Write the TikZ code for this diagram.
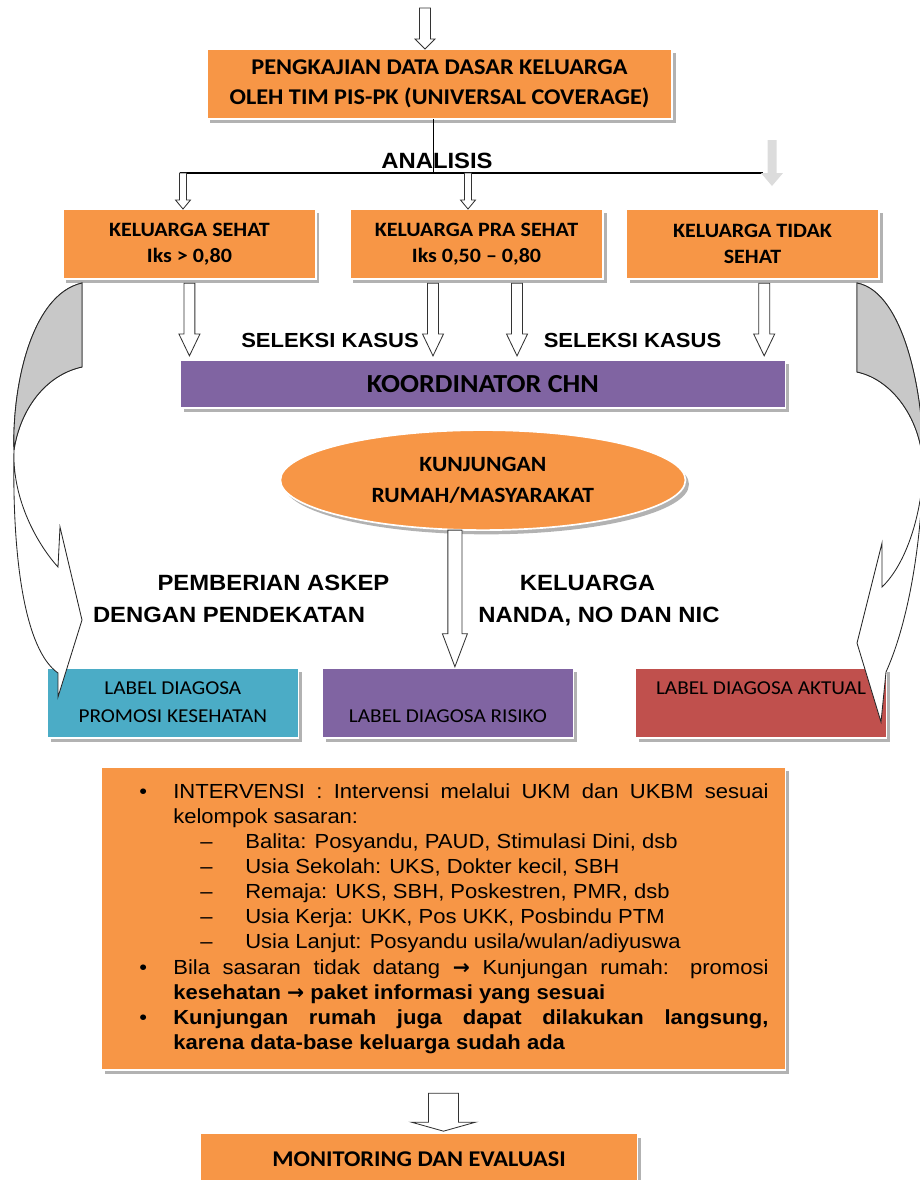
\documentclass[tikz,border=0pt]{standalone}
\usepackage{fontspec}
\setmainfont{Carlito}[FakeStretch=1.08]
\newfontfamily\arialf{Liberation Sans}[FakeStretch=1.08]
\newfontfamily\symf{DejaVu Sans}
\usetikzlibrary{positioning,shapes.geometric,shadows,calc}
\definecolor{or1}{RGB}{247,150,70}
\definecolor{pu1}{RGB}{128,100,162}
\definecolor{te1}{RGB}{75,172,198}
\definecolor{re1}{RGB}{192,80,77}
\definecolor{gr1}{RGB}{200,200,200}
\definecolor{gr2}{RGB}{220,220,220}

\begin{document}
\begin{tikzpicture}[
    x=0.025cm, y=-0.025cm,
    e/.style={
        rectangle, fill=or1, draw=white, line width=1.2pt, outer sep=0pt,
        inner sep=2pt, align=center,
        drop shadow={shadow xshift=2.5pt, shadow yshift=-3pt, opacity=.5, fill=black!60},
        font=\fontsize{14.5}{18.5}\selectfont\bfseries
    },
    row/.style={minimum width=6.325cm, minimum height=1.75cm},
    lab/.style={minimum width=6.275cm, minimum height=1.75cm,
        font=\fontsize{14}{20}\selectfont},
    lbl/.style={font=\arialf\fontsize{15.7}{19}\selectfont\bfseries,
        inner sep=0pt, anchor=base},
    hollow/.style n args={3}{draw=black!80, line width=0.6pt, fill=white,
        to path={let \p1=(\tikztostart), \p2=(\tikztotarget) in
            (\x1-#1,\y1) -- (\x1-#1,\y2+#3) -- (\x1-#2,\y2+#3) -- (\x1,\y2)
            -- (\x1+#2,\y2+#3) -- (\x1+#1,\y2+#3) -- (\x1+#1,\y1) -- cycle}},
    tarr/.style={hollow={3.9pt}{7.1pt}{7.1pt}},
    sarr/.style={hollow={2.5pt}{5.3pt}{6.4pt}},
    marr/.style={hollow={3.9pt}{7.5pt}{15.6pt}},
    karr/.style={hollow={5pt}{8.9pt}{23.5pt}},
    barr/.style={hollow={10.7pt}{22.8pt}{6.4pt}},
    garr/.style={hollow={3.2pt}{7.8pt}{9.2pt}, draw=none, fill=gr2},
    cv/.style={draw=black!85, line width=0.6pt}
]
\useasboundingbox (0,0) rectangle (920,1180);

\node [e, minimum width=11.625cm, minimum height=1.75cm,
       font=\fontsize{16}{21}\selectfont\bfseries] (pk) at (439.5,84)
      {PENGKAJIAN DATA DASAR KELUARGA\\OLEH TIM PIS-PK (UNIVERSAL COVERAGE)};

\node [e, row, below=2.25cm of pk, xshift=-6.25cm] (sehat) {KELUARGA SEHAT\\Iks > 0,80};
\node [e, row, right=0.85cm of sehat] (prasehat) {KELUARGA PRA SEHAT\\Iks 0,50 – 0,80};
\node [e, row, right=0.575cm of prasehat] (tidak) {KELUARGA TIDAK\\SEHAT};

\node [e, fill=pu1, minimum width=15.125cm, minimum height=1.2cm,
       font=\fontsize{18.5}{22}\selectfont\bfseries,
       below=2.025cm of prasehat, xshift=0.16cm] (koord) {KOORDINATOR CHN};

\node [e, ellipse, minimum width=10.125cm, minimum height=2.5cm,
       font=\fontsize{15.5}{22}\selectfont\bfseries,
       below=0.55cm of koord] (kunj) {KUNJUNGAN\\RUMAH/MASYARAKAT};

\node [e, lab, fill=pu1, below=3.45cm of kunj, xshift=-0.875cm] (risiko) {\strut\\\strut LABEL DIAGOSA RISIKO};
\node [e, lab, fill=te1, left=0.6cm of risiko] (promosi) {\strut LABEL DIAGOSA\\\strut PROMOSI KESEHATAN};
\node [e, lab, fill=re1, right=1.55cm of risiko] (aktual) {\strut LABEL DIAGOSA AKTUAL\\\strut};

\node [e, minimum width=17.1cm, minimum height=7.575cm,
       font=\arialf\fontsize{14.5}{17.8}\selectfont,
       below=0.725cm of risiko, xshift=-0.11cm] (interv)
{\hspace*{0.52cm}\parbox{15.725cm}{%
\parindent=0pt
\hangindent=0.85cm\hangafter=1
\makebox[0.85cm][l]{\textbullet}INTERVENSI : Intervensi melalui UKM dan UKBM sesuai kelompok sasaran:\par
\hspace*{1.525cm}\makebox[1.125cm][l]{–}Balita: Posyandu, PAUD, Stimulasi Dini, dsb\par
\hspace*{1.525cm}\makebox[1.125cm][l]{–}Usia Sekolah: UKS, Dokter kecil, SBH\par
\hspace*{1.525cm}\makebox[1.125cm][l]{–}Remaja: UKS, SBH, Poskestren, PMR, dsb\par
\hspace*{1.525cm}\makebox[1.125cm][l]{–}Usia Kerja: UKK, Pos UKK, Posbindu PTM\par
\hspace*{1.525cm}\makebox[1.125cm][l]{–}Usia Lanjut: Posyandu usila/wulan/adiyuswa\par
\hangindent=0.85cm\hangafter=1
\makebox[0.85cm][l]{\textbullet}Bila sasaran tidak datang {\symf\bfseries →} Kunjungan rumah: promosi\linebreak
\textbf{kesehatan {\symf →} paket informasi yang sesuai}\par
\hangindent=0.85cm\hangafter=1
\makebox[0.85cm][l]{\textbullet}\textbf{Kunjungan rumah juga dapat dilakukan langsung,\linebreak
karena data-base keluarga sudah ada}\par}};

\node [e, minimum width=10.925cm, minimum height=1.3cm,
       font=\fontsize{16}{19}\selectfont\bfseries,
       below=1.575cm of interv, xshift=-0.61cm] (monev) {MONITORING DAN EVALUASI};

% labels
\node [lbl] (ana) at (437,168) {ANALISIS};
\node [lbl, font=\arialf\fontsize{14.5}{17}\selectfont\bfseries] (sel1) at (330,347) {SELEKSI KASUS};
\node [lbl, font=\arialf\fontsize{14.5}{17}\selectfont\bfseries] (sel2) at (632.5,347) {SELEKSI KASUS};
\node [lbl] (t1) at (273.5,590) {PEMBERIAN ASKEP};
\node [lbl] (t2) at (229,622) {DENGAN PENDEKATAN};
\node [lbl] (t3) at (587.5,590) {KELUARGA};
\node [lbl] (t4) at (599,622) {NANDA, NO DAN NIC};

% analisis line
\coordinate (split) at (433,173);
\coordinate (hl) at (180,173);
\coordinate (hr) at (763,173);
\draw [line width=0.7pt] (split |- pk.south) -- (split);
\draw [line width=1.2pt] (hl) -- (hr);

% block arrows
\coordinate (in) at (425,8);
\draw [tarr] (in) to (in |- pk.north);
\coordinate (a1) at (183,173);
\coordinate (a2) at (468,173);
\draw [sarr] (a1) to (a1 |- sehat.north);
\draw [sarr] (a2) to (a2 |- prasehat.north);
\coordinate (g1) at (772,140);
\coordinate (g2) at (772,186);
\draw [garr] (g1) to (g2);

\draw [marr] ([yshift=-3pt]sehat.south) to ([yshift=3pt]sehat.south |- koord.north);
\draw [marr] ([xshift=-1.0875cm,yshift=-3pt]prasehat.south) to ([xshift=-1.0875cm,yshift=3pt]prasehat.south |- koord.north);
\draw [marr] ([xshift=1.0125cm,yshift=-3pt]prasehat.south) to ([xshift=1.0125cm,yshift=3pt]prasehat.south |- koord.north);
\draw [marr] ([xshift=0.29cm,yshift=-3pt]tidak.south) to ([xshift=0.29cm,yshift=3pt]tidak.south |- koord.north);

\draw [karr] ([xshift=-0.7cm]kunj.south) to ([xshift=-0.7cm,yshift=1pt]kunj.south |- risiko.north);
\draw [barr] ([yshift=-0.575cm]interv.south) to ([yshift=1.5pt]interv.south |- monev.north);

% curved arrows
\draw [cv, fill=white] (82,283) .. controls (30,295) and (12,390) .. (14,450)
    .. controls (12,560) and (25,650) .. (58,673)
    -- (58,697) -- (82,620) -- (60,527) -- (58,567)
    .. controls (38,545) and (12,500) .. (14,450)
    .. controls (20,410) and (45,375) .. (82,367) -- cycle;
\draw [cv, fill=gr1] (82,283) .. controls (30,295) and (12,390) .. (14,450)
    .. controls (20,410) and (45,375) .. (82,367) -- cycle;

\draw [cv, fill=white] (857,283) .. controls (905,292) and (926,400) .. (923,475)
    .. controls (920,560) and (905,630) .. (886,672)
    -- (881,722) -- (857,643) -- (882,543) -- (882,587)
    .. controls (905,565) and (920,520) .. (923,475)
    .. controls (925,425) and (895,380) .. (857,372) -- cycle;
\draw [cv, fill=gr1] (857,283) .. controls (905,292) and (926,400) .. (923,475)
    .. controls (925,425) and (895,380) .. (857,372) -- cycle;

\end{tikzpicture}
\end{document}
